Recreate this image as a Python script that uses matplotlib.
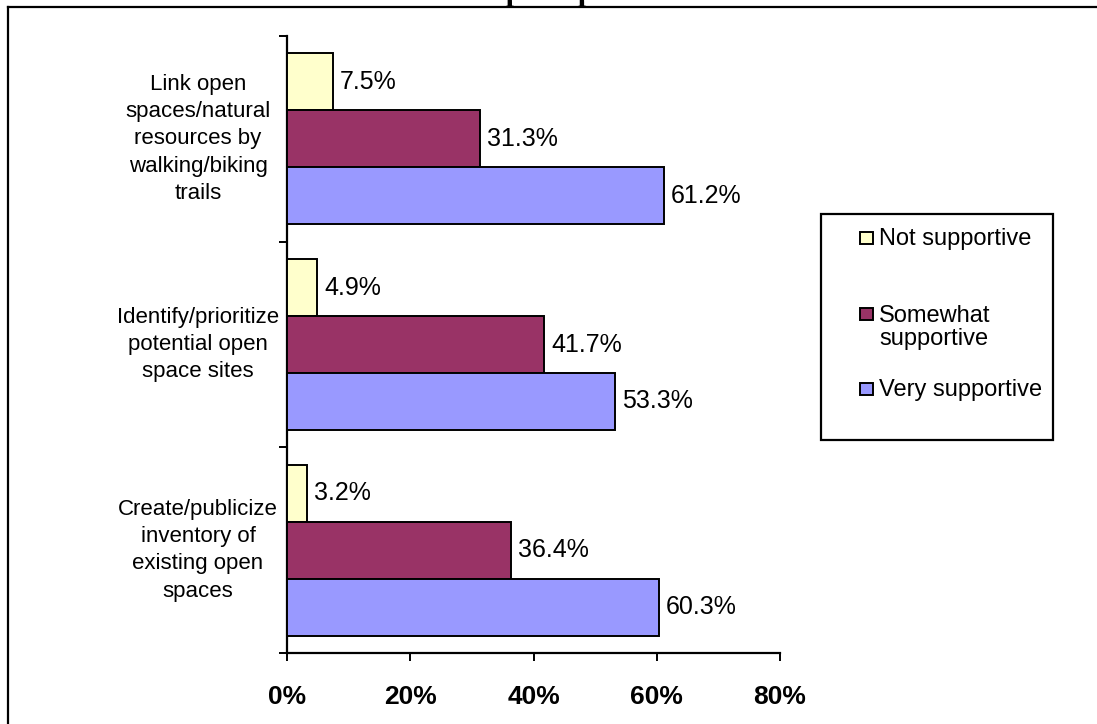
import matplotlib
matplotlib.use("Agg")
import matplotlib.pyplot as plt
from matplotlib.patches import Rectangle
from matplotlib.lines import Line2D
from matplotlib.transforms import blended_transform_factory
import numpy as np

plt.rcParams['font.family'] = ['Liberation Sans', 'DejaVu Sans']

title = "Open Space"
categories = [
    "Link open\nspaces/natural\nresources by\nwalking/biking\ntrails",
    "Identify/prioritize\npotential open\nspace sites",
    "Create/publicize\ninventory of\nexisting open\nspaces",
]
series_names = ["Not supportive", "Somewhat\nsupportive", "Very supportive"]
not_supportive = [7.5, 4.9, 3.2]
somewhat_supportive = [31.3, 41.7, 36.4]
very_supportive = [61.2, 53.3, 60.3]
series_values = [not_supportive, somewhat_supportive, very_supportive]
colors = ["#FFFFCC", "#993366", "#9999FF"]
xticks = [0, 20, 40, 60, 80]
xtick_labels = ["0%", "20%", "40%", "60%", "80%"]

W, H = 1097, 724
fig = plt.figure(figsize=(W / 100, H / 100), dpi=100)
fig.patch.set_facecolor("white")

def fx(x):
    return x / W

def fy(y):
    return 1 - y / H

# outer border (extends beyond right/bottom edges)
fig.add_artist(Line2D([fx(8), 1.01], [fy(7), fy(7)], color="black", lw=1.6))
fig.add_artist(Line2D([fx(8), fx(8)], [-0.01, fy(7)], color="black", lw=1.6))

# title, mostly cut off at top as in the reference
fig.text(fx(560), fy(0.0), title, ha="center", va="baseline",
         fontsize=22, fontweight="bold", family=["Liberation Serif", "DejaVu Serif"])

ax = fig.add_axes([fx(287), fy(653), fx(780) - fx(287), (653 - 36) / H])
n = len(categories)
bar_h = 0.277
centers = np.arange(n) + 0.5
for i, (vals, col) in enumerate(zip(series_values, colors)):
    ys = centers + (i - 1) * bar_h
    ax.barh(ys, vals, height=bar_h, color=col, edgecolor="black", linewidth=1.4, zorder=3)
    for y, v in zip(ys, vals):
        ax.annotate(f"{v:.1f}%", (v, y), xytext=(5, 0), textcoords="offset points",
                    ha="left", va="center", fontsize=18, color="black")

ax.set_xlim(0, 80)
ax.set_ylim(n, 0)
ax.set_xticks(xticks)
ax.set_xticklabels(xtick_labels, fontsize=19, fontweight="bold")
ax.tick_params(axis="x", direction="out", length=6, width=1.4, pad=17)
ax.set_yticks(np.arange(n + 1))
ax.set_yticklabels([])
ax.tick_params(axis="y", direction="out", length=6, width=1.4)
for s in ["top", "right"]:
    ax.spines[s].set_visible(False)
for s in ["left", "bottom"]:
    ax.spines[s].set_linewidth(1.6)

trans = blended_transform_factory(fig.transFigure, ax.transData)
for c, lab in zip(centers, categories):
    ax.text(fx(198), c, lab, transform=trans, ha="center", va="center",
            multialignment="center", fontsize=16, linespacing=1.4)

# legend
fig.add_artist(Rectangle((fx(821), fy(440)), fx(1053) - fx(821), (440 - 214) / H,
                         transform=fig.transFigure, facecolor="white",
                         edgecolor="black", lw=1.6))
marker_y = [238, 314, 389]
text_y = [239, 327.5, 390]
for name, col, my, ty in zip(series_names, colors, marker_y, text_y):
    fig.add_artist(Rectangle((fx(860), fy(my + 6)), 13 / W, 12 / H,
                             transform=fig.transFigure, facecolor=col,
                             edgecolor="black", lw=1.4))
    fig.text(fx(879), fy(ty), name, ha="left", va="center", fontsize=17,
             linespacing=1.0)

fig.savefig("out.png", dpi=100, facecolor="white")
